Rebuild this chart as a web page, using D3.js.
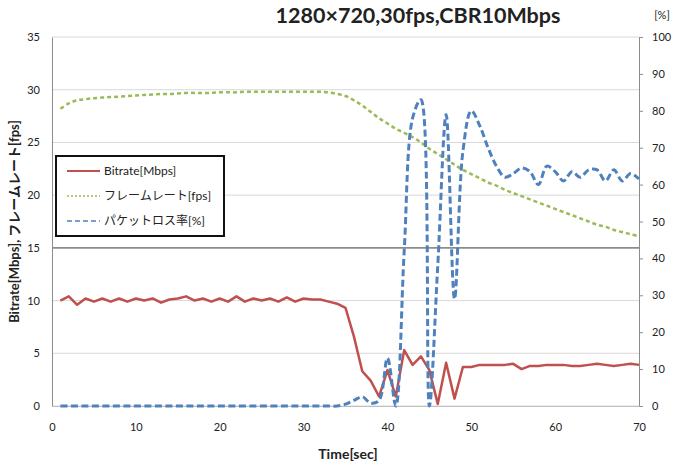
<!DOCTYPE html>
<html>
<head>
<meta charset="utf-8">
<script src="https://cdn.jsdelivr.net/npm/d3@7"></script>
<style>
    body { margin: 0; background: #fff; }
    #chart { width: 680px; height: 471px; }
    text { font-family: Lato, "Noto Sans CJK JP", sans-serif; fill: #222; }
</style>
</head>
<body>
<div id="chart"></div>
<script>

// time axis (sec)
const seconds = d3.range(1, 71);

// Bitrate [Mbps]
const bitrate = [10.0, 10.4, 9.6, 10.2, 9.9, 10.2, 9.9, 10.2, 9.9, 10.2,
    10.0, 10.2, 9.8, 10.1, 10.2, 10.4, 10.0, 10.2, 9.9, 10.2,
    9.9, 10.4, 9.9, 10.2, 10.0, 10.2, 9.9, 10.3, 9.9, 10.2,
    10.1, 10.1, 9.9, 9.7, 9.3, 6.6, 3.3, 2.4, 0.9, 3.4,
    0.9, 5.3, 3.9, 4.7, 3.4, 0.2, 4.1, 0.7, 3.7, 3.7,
    3.9, 3.9, 3.9, 3.9, 4.0, 3.5, 3.8, 3.8, 3.9, 3.9,
    3.9, 3.8, 3.8, 3.9, 4.0, 3.9, 3.8, 3.9, 4.0, 3.9];

// フレームレート [fps]
const frameRate = [28.2, 28.7, 29.0, 29.1, 29.2, 29.25, 29.3, 29.35, 29.4, 29.45,
    29.5, 29.55, 29.6, 29.6, 29.65, 29.7, 29.7, 29.7, 29.7, 29.75,
    29.75, 29.75, 29.8, 29.8, 29.8, 29.8, 29.8, 29.8, 29.8, 29.8,
    29.8, 29.8, 29.75, 29.6, 29.4, 29.0, 28.5, 27.9, 27.3, 26.8,
    26.3, 25.9, 25.5, 25.0, 24.4, 23.9, 23.4, 22.9, 22.4, 22.0,
    21.6, 21.2, 20.9, 20.5, 20.2, 19.9, 19.6, 19.3, 19.0, 18.7,
    18.4, 18.1, 17.8, 17.5, 17.2, 17.0, 16.7, 16.5, 16.3, 16.1];

// パケットロス率 [%]
const packetLoss = [0, 0, 0, 0, 0, 0, 0, 0, 0, 0,
    0, 0, 0, 0, 0, 0, 0, 0, 0, 0,
    0, 0, 0, 0, 0, 0, 0, 0, 0, 0,
    0, 0, 0, 0, 0.5, 1.5, 2.5, 0.8, 1.5, 13,
    0, 42, 78, 83, 0, 38, 79, 29, 69, 80,
    76, 70, 65, 62, 63, 64.5, 63.5, 60, 65, 63.5,
    61, 63.5, 62, 64, 64, 61, 64, 61, 63, 61.5];

const xTicks = [0, 10, 20, 30, 40, 50, 60, 70];
const leftTicks = [0, 5, 10, 15, 20, 25, 30, 35];
const rightTicks = [0, 10, 20, 30, 40, 50, 60, 70, 80, 90, 100];

const seriesNames = ["Bitrate[Mbps]", "フレームレート[fps]", "パケットロス率[%]"];
const seriesColors = ["#c0504d", "#9bbb59", "#4f81bd"];

class LossChart {

    constructor(parentElement) {
        this.parentElement = parentElement;
        this.initVis();
    }

    initVis() {
        let vis = this;

        vis.margin = {top: 37, right: 41, bottom: 65, left: 52};
        vis.width = 680 - vis.margin.left - vis.margin.right;
        vis.height = 471 - vis.margin.top - vis.margin.bottom;

        vis.root = d3.select("#" + vis.parentElement).append("svg")
            .attr("width", 680)
            .attr("height", 471);

        vis.svg = vis.root.append("g")
            .attr("transform", `translate(${vis.margin.left}, ${vis.margin.top})`);

        vis.x = d3.scaleLinear().domain([0, 70]).range([0, vis.width]);
        vis.yLeft = d3.scaleLinear().domain([0, 35]).range([vis.height, 0]);
        vis.yRight = d3.scaleLinear().domain([0, 100]).range([vis.height, 0]);

        // gridlines (15 is drawn darker, like in the original)
        vis.svg.append("g")
            .selectAll("line")
            .data(leftTicks)
            .enter().append("line")
            .attr("x1", 0)
            .attr("x2", vis.width)
            .attr("y1", d => vis.yLeft(d))
            .attr("y2", d => vis.yLeft(d))
            .attr("stroke", d => d === 15 ? "#8c8c8c" : "#d9d9d9")
            .attr("stroke-width", d => d === 15 ? 1.6 : 1);

        // left axis
        let leftAxis = vis.svg.append("g")
            .call(d3.axisLeft(vis.yLeft).tickValues(leftTicks).tickSize(0).tickPadding(12));
        leftAxis.select(".domain").attr("stroke", "#8c8c8c");

        // right axis
        let rightAxis = vis.svg.append("g")
            .attr("transform", `translate(${vis.width}, 0)`)
            .call(d3.axisRight(vis.yRight).tickValues(rightTicks).tickSize(4).tickSizeOuter(0).tickPadding(9));
        rightAxis.select(".domain").attr("stroke", "#8c8c8c");
        rightAxis.selectAll(".tick line").attr("stroke", "#8c8c8c");

        // bottom axis
        let bottomAxis = vis.svg.append("g")
            .attr("transform", `translate(0, ${vis.height})`)
            .call(d3.axisBottom(vis.x).tickValues(xTicks).tickSize(0).tickPadding(17));
        bottomAxis.select(".domain").attr("stroke", "#bfbfbf");

        vis.root.selectAll(".tick text")
            .attr("font-family", "Lato, sans-serif")
            .attr("font-size", 11)
            .attr("fill", "#333");

        // lines
        let rows = seconds.map((t, i) => ({t: t, rate: bitrate[i], fps: frameRate[i], loss: packetLoss[i]}));

        let rateLine = d3.line()
            .x(d => vis.x(d.t))
            .y(d => vis.yLeft(d.rate));
        let fpsLine = d3.line()
            .curve(d3.curveCatmullRom.alpha(0.5))
            .x(d => vis.x(d.t))
            .y(d => vis.yLeft(d.fps));
        let lossLine = d3.line()
            .curve(d3.curveCatmullRom.alpha(0.5))
            .x(d => vis.x(d.t))
            .y(d => vis.yRight(d.loss));

        vis.svg.append("path")
            .datum(rows)
            .attr("fill", "none")
            .attr("stroke", seriesColors[0])
            .attr("stroke-width", 2.5)
            .attr("stroke-linejoin", "round")
            .attr("d", rateLine);

        vis.svg.append("path")
            .datum(rows)
            .attr("fill", "none")
            .attr("stroke", seriesColors[1])
            .attr("stroke-width", 2.5)
            .attr("stroke-dasharray", "4,3")
            .attr("d", fpsLine);

        vis.svg.append("path")
            .datum(rows)
            .attr("fill", "none")
            .attr("stroke", seriesColors[2])
            .attr("stroke-width", 3)
            .attr("stroke-dasharray", "7,3.5")
            .attr("d", lossLine);

        // legend
        let legend = vis.root.append("g")
            .attr("transform", "translate(56, 156)");
        legend.append("rect")
            .attr("width", 168)
            .attr("height", 80)
            .attr("fill", "#fff")
            .attr("stroke", "#111")
            .attr("stroke-width", 2);
        let dashes = [null, "2,2", "5,3"];
        let items = legend.selectAll(".item")
            .data(seriesNames)
            .enter().append("g")
            .attr("class", "item")
            .attr("transform", (d, i) => `translate(0, ${15 + i * 25})`);
        items.append("line")
            .attr("x1", 11)
            .attr("x2", 44)
            .attr("stroke", (d, i) => seriesColors[i])
            .attr("stroke-width", (d, i) => i === 0 ? 2 : 1.5)
            .attr("stroke-dasharray", (d, i) => dashes[i]);
        items.append("text")
            .attr("x", 48)
            .attr("dy", "0.35em")
            .attr("font-size", 12)
            .text(d => d);

        // titles
        vis.root.append("text")
            .attr("x", 418)
            .attr("y", 23)
            .attr("text-anchor", "middle")
            .attr("font-size", 21.5)
            .attr("font-weight", "bold")
            .text("1280×720,30fps,CBR10Mbps");

        vis.root.append("text")
            .attr("x", 662)
            .attr("y", 19)
            .attr("text-anchor", "middle")
            .attr("font-size", 11)
            .text("[%]");

        vis.root.append("text")
            .attr("transform", `translate(19, ${vis.margin.top + vis.height / 2}) rotate(-90)`)
            .attr("text-anchor", "middle")
            .attr("font-size", 13)
            .attr("font-weight", "bold")
            .text("Bitrate[Mbps], フレームレート[fps]");

        vis.root.append("text")
            .attr("x", 348)
            .attr("y", 459)
            .attr("text-anchor", "middle")
            .attr("font-size", 14)
            .attr("font-weight", "bold")
            .text("Time[sec]");
    }
}

new LossChart("chart");

</script>
</body>
</html>
